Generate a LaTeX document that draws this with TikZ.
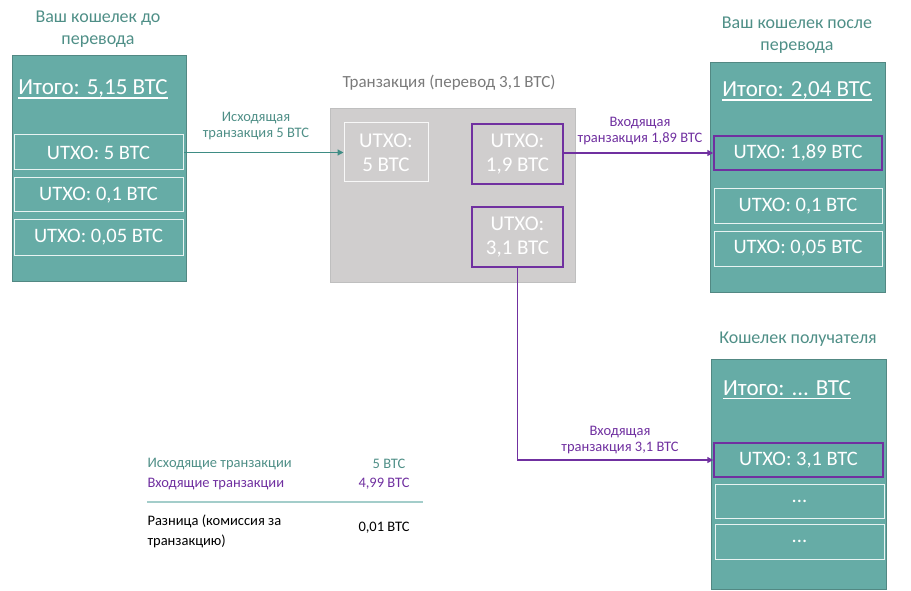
\documentclass[tikz,border=0pt]{standalone}
\usepackage{fontspec}
\setmainfont{Carlito}
\usetikzlibrary{arrows.meta}
\definecolor{tealfill}{HTML}{66ACA6}
\definecolor{tealtext}{HTML}{4F8F87}
\definecolor{tealline}{HTML}{3E8C84}
\definecolor{purp}{HTML}{7030A0}
\definecolor{grayfill}{HTML}{D0CECE}
\definecolor{grayedge}{HTML}{BFBFBF}
\definecolor{graytext}{HTML}{7A7A7A}
\tikzset{
  wallet/.style={draw=tealline!70!gray,fill=tealfill,line width=0.8pt},
  utxo/.style={draw=white!85!tealfill,line width=1pt,text=white,font=\fontsize{20.5}{24}\selectfont},
  utxop/.style={draw=purp,line width=1.5pt,text=white,font=\fontsize{20.5}{24}\selectfont},
  tutxo/.style={draw=white!85!grayfill,line width=1pt,text=white,align=center,font=\fontsize{21}{24}\selectfont},
  tutxop/.style={draw=purp,line width=1.5pt,text=white,align=center,font=\fontsize{21}{24}\selectfont},
  title/.style={text=tealtext,align=center,font=\fontsize{18}{22}\selectfont},
  total/.style={text=white,inner sep=0pt,font=\fontsize{23}{26}\selectfont},
  lbl/.style={align=center,font=\fontsize{14.5}{16}\selectfont},
  tbl/.style={anchor=west,font=\fontsize{14.5}{20}\selectfont},
  arr/.style={line width=1.5pt,-{Triangle[length=6pt,width=6pt]}},
}
\begin{document}
\begin{tikzpicture}[x=1pt,y=-1pt]
\useasboundingbox (0,0) rectangle (911,591);
% left wallet
\node[title] (t1) at (98,29) {Ваш кошелек до\\перевода};
\draw[wallet] (12,55) rectangle (186,281);
\node[total] (s1) at (93,89) {Итого: 5,15 BTC};
\draw[white,line width=1.2pt] ([yshift=-3pt]s1.base west) -- ([yshift=-3pt]s1.base east);
\node[utxo,minimum width=169pt,minimum height=35pt] (a1) at (98.5,152.5) {UTXO: 5 BTC};
\node[utxo,minimum width=169pt,minimum height=34pt] (a2) at (98.5,195) {UTXO: 0,1 BTC};
\node[utxo,minimum width=169pt,minimum height=35pt] (a3) at (98.5,237.5) {UTXO: 0,05 BTC};
% transaction
\node[text=graytext,font=\fontsize{17}{20}\selectfont] (tt) at (449,83) {Транзакция (перевод 3,1 BTC)};
\draw[draw=grayedge,fill=grayfill,line width=0.8pt] (330,108) rectangle (575,282);
\node[tutxo,minimum width=84pt,minimum height=59pt] (b1) at (386,152.5) {UTXO:\\5 BTC};
\node[tutxop,minimum width=91pt,minimum height=60pt] (b2) at (517.5,154) {UTXO:\\1,9 BTC};
\node[tutxop,minimum width=91pt,minimum height=60pt] (b3) at (517.5,237) {UTXO:\\3,1 BTC};
% right wallet
\node[title] (t2) at (797,35) {Ваш кошелек после\\перевода};
\draw[wallet] (710,62) rectangle (885,292);
\node[total] (s2) at (797,91) {Итого: 2,04 BTC};
\draw[white,line width=1.2pt] ([yshift=-3pt]s2.base west) -- ([yshift=-3pt]s2.base east);
\node[utxop,minimum width=168pt,minimum height=34pt] (c1) at (798,153) {UTXO: 1,89 BTC};
\node[utxo,minimum width=168pt,minimum height=34pt] (c2) at (798,206) {UTXO: 0,1 BTC};
\node[utxo,minimum width=168pt,minimum height=35pt] (c3) at (798,248.5) {UTXO: 0,05 BTC};
% recipient wallet
\node[title] (t3) at (798,339) {Кошелек получателя};
\draw[wallet] (711,359) rectangle (886,589);
\node[total] (s3) at (787,388) {Итого: ... BTC};
\draw[white,line width=1.2pt] ([yshift=-3pt]s3.base west) -- ([yshift=-3pt]s3.base east);
\node[utxop,minimum width=169pt,minimum height=34pt] (d1) at (798.5,460) {UTXO: 3,1 BTC};
\node[utxo,minimum width=169pt,minimum height=34pt] (d2) at (799.5,501) {...};
\node[utxo,minimum width=169pt,minimum height=35pt] (d3) at (799.5,541.5) {...};
% connectors
\draw[arr,draw=tealline,line width=1.2pt] (a1.east) -- (b1.west);
\node[lbl,text=tealtext] (l1) at (256,126) {Исходящая\\транзакция 5 BTC};
\draw[arr,draw=purp] (b2.east |- c1.west) -- (c1.west);
\node[lbl,text=purp] (l2) at (640,131) {Входящая\\транзакция 1,89 BTC};
\draw[arr,draw=purp] (b3.south) -- (b3.south |- d1.west) -- (d1.west);
\node[lbl,text=purp] (l3) at (620,440) {Входящая\\транзакция 3,1 BTC};
% table
\node[tbl,text=tealtext] (r1) at (144,464) {Исходящие транзакции};
\node[tbl,text=purp] (r2) at (144,484) {Входящие транзакции};
\node[font=\fontsize{14.5}{15}\selectfont,text=tealtext] (v1) at (389,464) {5 BTC};
\node[font=\fontsize{14.5}{15}\selectfont,text=purp] (v2) at (384,484) {4,99 BTC};
\draw[draw=tealfill!60,line width=1.5pt] (147,502) -- (423,502);
\node[anchor=west,align=left,font=\fontsize{14.5}{20}\selectfont] (r3) at (144,531) {Разница (комиссия за\\транзакцию)};
\node[font=\fontsize{14.5}{15}\selectfont] (v3) at (384,528) {0,01 BTC};
\end{tikzpicture}
\end{document}
